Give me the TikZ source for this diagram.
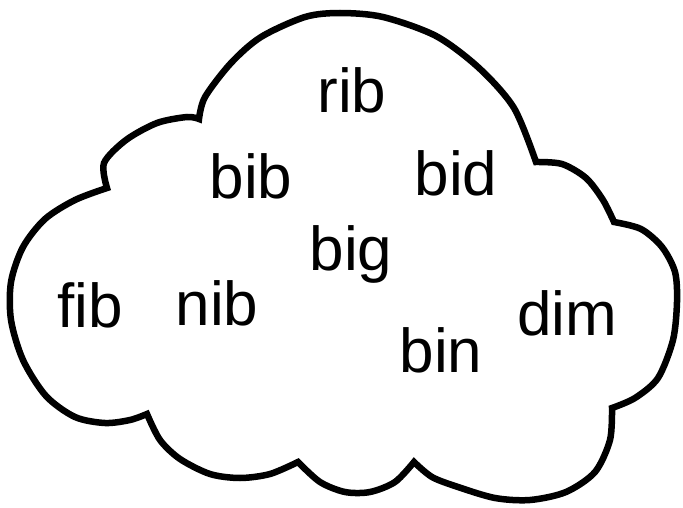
\documentclass[tikz,border=0pt]{standalone}
\usepackage{fontspec}
\setmainfont{Liberation Sans}
\usepackage{tikz}

\begin{document}
\begin{tikzpicture}[
							x=1pt, y=-1pt,
							cloudLine/.style={draw=black, line width=6.5pt, line join=miter, line cap=round},
							wordNode/.style={inner sep=0pt, anchor=base, font=\fontsize{62}{72}\selectfont}
						]
						
						\useasboundingbox (0,0) rectangle (683,508);
						
						\draw [cloudLine] (107,188)
							-- plot[smooth] coordinates {(107,188) (104,163) (126,140) (157,123) (187,117) (199,119)}
							-- plot[smooth] coordinates {(199,119) (205,97) (231,63) (261,37) (305,17) (340,13) (383,17) (436,36) (479,68) (514,108) (536,162)}
							-- plot[smooth] coordinates {(536,162) (562,164) (586,178) (603,200) (614,222)}
							-- plot[smooth] coordinates {(614,222) (641,229) (662,247) (675,272) (677,302) (673,340) (658,378) (635,398) (612,408)}
							-- plot[smooth] coordinates {(612,408) (610,440) (595,472) (566,492) (530,500) (495,498) (458,487) (432,477) (414,462)}
							-- plot[smooth] coordinates {(414,462) (395,482) (370,492) (345,492) (320,482) (298,462)}
							-- plot[smooth] coordinates {(298,462) (270,474) (240,478) (210,474) (180,459) (160,440) (147,414)}
							-- plot[smooth] coordinates {(147,414) (130,420) (105,423) (75,417) (46,396) (23,360) (11,320) (11,282) (23,247) (45,219) (75,200) (107,188)}
							-- cycle;
						
						\node[wordNode] (rib) at (352,113) {rib};
						\node[wordNode] (bib) at (251,198) {bib};
						\node[wordNode] (bid) at (456,195) {bid};
						\node[wordNode] (big) at (351,270) {big};
						\node[wordNode] (fib) at (90,327) {fib};
						\node[wordNode] (nib) at (217,325) {nib};
						\node[wordNode] (bin) at (441,372) {bin};
						\node[wordNode] (dim) at (567,335) {dim};
					\end{tikzpicture}
\end{document}
